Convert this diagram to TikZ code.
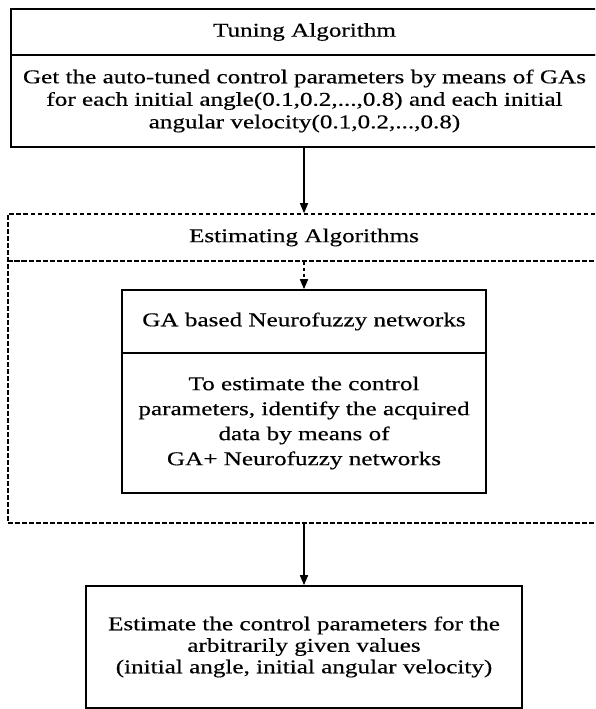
\documentclass[tikz,border=0pt]{standalone}
\usepackage{fontspec}
\setmainfont{Liberation Serif}[FakeStretch=1.29,FakeBold=0.4]
\usetikzlibrary{arrows.meta}
\begin{document}
\begin{tikzpicture}[x=1pt,y=-1pt,
  box/.style={draw, line width=1.7pt, rectangle, inner sep=0pt, align=center,
    font=\fontsize{19.5}{22.5}\selectfont},
  dbox/.style={box, line width=1.6pt, dash pattern=on 4.5pt off 2.5pt},
  arr/.style={line width=1.6pt, -{Triangle[length=10pt,width=8pt]}},
  darr/.style={arr, dash pattern=on 3.5pt off 2.5pt}]
\useasboundingbox (0,0) rectangle (595,709);
\clip (0,0) rectangle (595,709);
\fill[white] (0,0) rectangle (595,709);
% Tuning algorithm
\node[box, minimum width=587pt, minimum height=46pt] (tuneT) at (304.5,32) {Tuning Algorithm};
\node[box, minimum width=587pt, minimum height=92pt] (tuneB) at (304.5,101)
  {Get the auto-tuned control parameters by means of GAs\\
   for each initial angle(0.1,0.2,...,0.8) and each initial\\
   angular velocity(0.1,0.2,...,0.8)};
% Estimating algorithms (dashed frame)
\node[dbox, minimum width=592pt, minimum height=47pt] (estT) at (304,237.5) {Estimating Algorithms};
\node[dbox, minimum width=592pt, minimum height=262pt] (estB) at (304,392) {};
% Inner box
\node[box, minimum width=364pt, minimum height=63pt] (gaT) at (304,321.5) {GA based Neurofuzzy networks};
\node[box, minimum width=364pt, minimum height=140pt, font=\fontsize{19.5}{25}\selectfont] (gaB) at (304,423)
  {To estimate the control\\
   parameters, identify the acquired\\
   data by means of\\
   GA+ Neurofuzzy networks};
% Output box
\node[box, minimum width=436pt, minimum height=122pt, font=\fontsize{19.5}{21.5}\selectfont] (out) at (304,647)
  {Estimate the control parameters for the\\
   arbitrarily given values\\
   (initial angle, initial angular velocity)};
% connectors
\draw[arr] (tuneB.south -| estT.north) -- (estT.north);
\draw[darr] (estT.south) -- (gaT.north);
\draw[arr] (estB.south) -- (out.north);
\end{tikzpicture}
\end{document}
